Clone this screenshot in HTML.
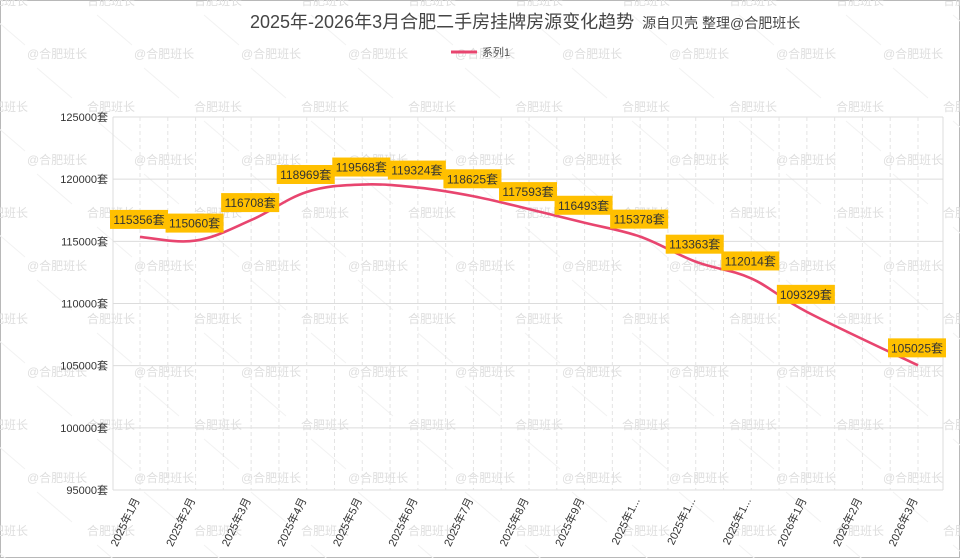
<!DOCTYPE html>
<html><head><meta charset="utf-8"><style>
body{margin:0;background:#fff;}
#wrap{position:relative;width:960px;height:558px;overflow:hidden;font-family:"Liberation Sans","Noto Sans CJK SC",sans-serif;}
svg text{font-family:"Liberation Sans","Noto Sans CJK SC",sans-serif;}
</style></head><body>
<div id="wrap">
<svg id="chart" width="960" height="558" xmlns="http://www.w3.org/2000/svg">
<rect x="0.5" y="0.5" width="959" height="557" fill="#fff" stroke="#b8b8b8"/>
<g id="wm"></g>
<g id="grid"></g>
<g id="yaxis"></g>
<g id="xaxis"></g>
<g id="series"></g>
<g id="labels"></g>
<text x="250" y="28" font-size="18" fill="#444">2025年-2026年3月合肥二手房挂牌房源变化趋势<tspan font-size="14" dx="8">源自贝壳 整理@合肥班长</tspan></text>
<g>
<line x1="451" y1="52" x2="477" y2="52" stroke="#e8456f" stroke-width="3"/>
<text x="482" y="56" font-size="11" fill="#555">系列1</text>
</g>
</svg>
</div>
<script>
const categories=["2025年1月","2025年2月","2025年3月","2025年4月","2025年5月","2025年6月","2025年7月","2025年8月","2025年9月","2025年1...","2025年1...","2025年1...","2026年1月","2026年2月","2026年3月"];
const values=[115356,115060,116708,118969,119568,119324,118625,117593,116493,115378,113363,112014,109329,null,105025];
const yTicks=[95000,100000,105000,110000,115000,120000,125000];
const NS="http://www.w3.org/2000/svg";
const L=113,R=943,T=117,B=490,yMin=95000,yMax=125000;
const x0=140,step=(918-140)/(categories.length-1);
function xs(i){return x0+i*step;}
function ys(v){return B-(v-yMin)/(yMax-yMin)*(B-T);}
function mk(tag,attrs,parent){const e=document.createElementNS(NS,tag);for(const k in attrs)e.setAttribute(k,attrs[k]);parent.appendChild(e);return e;}
const wm=document.getElementById('wm');
for(let r=0;r<11;r++){const y=53*r+0;const odd=(r%2)==1;const txt=odd?"@合肥班长":"合肥班长";
 for(let c=-1;c<10;c++){const x=c*107+(odd?27:-20);
  const t=mk('text',{x:x,y:y+5,'font-size':12,fill:'#dedede'},wm);t.textContent=txt;
  
  
  const ln=mk('line',{x1:x+10,y1:y+15,x2:x+45,y2:y+45,stroke:'#f2f2f2','stroke-width':1},wm);
  
  }}
const grid=document.getElementById('grid');
const ya=document.getElementById('yaxis');
yTicks.forEach(v=>{const y=ys(v);
 const g=mk('line',{x1:L,y1:y,x2:R,y2:y,stroke:'#dcdcdc','stroke-width':1},grid);
 
 
 const t=mk('text',{x:L-5,y:y+4,'font-size':11,fill:'#333','text-anchor':'end'},ya);t.textContent=v+"套";
 
 });
mk('line',{x1:L,y1:T,x2:L,y2:B,stroke:'#dcdcdc'},grid);
mk('line',{x1:R,y1:T,x2:R,y2:B,stroke:'#dcdcdc'},grid);
const xa=document.getElementById('xaxis');
categories.forEach((c,i)=>{const x=xs(i);
 [x,x+step/2].forEach(xx=>{if(xx<R){const d=mk('line',{x1:xx,y1:T,x2:xx,y2:B,stroke:'#e4e4e4','stroke-dasharray':'4,3'},grid);
  
  }});
 const t=mk('text',{x:x,y:500,'font-size':11,fill:'#333','text-anchor':'end',transform:`rotate(-64 ${x} 500)`},xa);t.textContent=c;
 
 });
const pts=[];values.forEach((v,i)=>{if(v!=null)pts.push([xs(i),ys(v),v]);});
let d=`M${pts[0][0]},${pts[0][1]}`;
for(let i=0;i<pts.length-1;i++){const p0=pts[i-1]||pts[i],p1=pts[i],p2=pts[i+1],p3=pts[i+2]||p2;const k=0.18;
 d+=` C${p1[0]+(p2[0]-p0[0])*k},${p1[1]+(p2[1]-p0[1])*k} ${p2[0]-(p3[0]-p1[0])*k},${p2[1]-(p3[1]-p1[1])*k} ${p2[0]},${p2[1]}`;}
const path=mk('path',{d:d,fill:'none',stroke:'#e8456f','stroke-width':2.6},document.getElementById('series'));


const lab=document.getElementById('labels');
pts.forEach(p=>{const g=mk('g',{},lab);
 
 
 mk('rect',{x:p[0]-30,y:p[1]-27,width:58,height:19,fill:'#ffc000'},g);
 const t=mk('text',{x:p[0]-1,y:p[1]-13,'font-size':12,fill:'#333','text-anchor':'middle'},g);t.textContent=p[2]+"套";});
</script>
</body></html>
